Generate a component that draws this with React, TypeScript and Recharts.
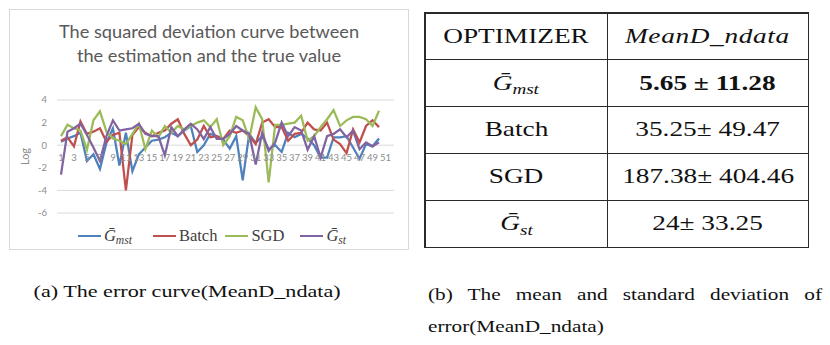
import React from 'react';
import { LineChart, Line, XAxis, YAxis, CartesianGrid, Legend } from 'recharts';

const categories = ['1','2','3','4','5','6','7','8','9','10','11','12','13','14','15','16','17','18','19','20','21','22','23','24','25','26','27','28','29','30','31','32','33','34','35','36','37','38','39','40','41','42','43','44','45','46','47','48','49','50','51'];

const gmst = [0.3, 0.6, 0.8, 1.1, -1.4, -0.8, -2.1, 0.2, 1.5, -1.8, 1.1, -2.3, -0.8, -0.2, 0.4, 0.5, 0.7, 1.1, 0.8, 1.3, 1.7, -0.6, 0.0, 1.0, 0.8, 0.5, -0.3, 0.8, -3.1, 1.0, 0.2, 0.8, -0.35, 0.0, -0.6, 1.1, 0.7, 1.0, 0.6, 0.0, -1.1, -1.1, 0.7, 0.7, 0.8, -0.2, -1.2, 0.1, -0.1, 0.6];
const batch = [0.4, 0.7, -0.1, 2.1, 1.0, 1.2, 1.5, 0.3, 0.9, 1.1, -4.0, 0.9, 1.6, 1.1, 0.8, 1.1, 1.3, 1.9, 2.3, 1.0, 0.0, 0.5, 1.7, 0.7, 0.8, 0.55, 1.3, 1.1, 1.3, 0.8, 0.1, 2.0, 2.3, 1.6, 1.6, 0.4, 1.0, 1.1, 2.0, 1.4, 1.3, 2.0, 0.5, 0.1, -0.7, 1.4, 0.25, 1.7, 2.2, 1.6];
const sgd = [0.8, 1.8, 1.5, 1.3, -0.4, 2.2, 3.0, 1.2, 0.6, 0.4, 0.1, 1.0, 1.9, -0.35, 1.3, 0.7, 1.7, 1.1, 1.7, 1.4, 1.7, 2.0, 2.2, 1.6, 2.3, 0.0, 0.8, 2.5, 2.2, 0.55, 3.35, 2.3, -3.3, 1.8, 1.8, 1.9, 2.0, 2.6, 0.4, 0.8, 1.6, 2.3, 3.1, 1.7, 2.2, 2.5, 2.5, 2.3, 1.7, 3.05];
const gst = [-2.6, 1.2, 1.5, 1.9, 0.9, -0.2, -1.4, 0.8, 2.2, 1.3, 1.4, 1.5, 1.9, 1.0, 0.8, 0.8, -0.9, 1.6, 0.8, 1.4, 1.9, 1.4, 0.55, 1.6, 0.55, 0.55, 1.0, 1.7, 1.3, 1.0, -1.7, 1.1, -0.5, 0.25, 2.0, 0.8, 1.6, 1.3, -0.4, 0.8, -1.1, 0.8, 1.0, 1.4, 0.7, 1.3, -0.35, 0.25, -0.1, 0.25];

const yTicks = [-6, -4, -2, 0, 2, 4];

const tableHeader = ['OPTIMIZER', 'MeanD_ndata'];
const optimizerNames = ['G_mst', 'Batch', 'SGD', 'G_st'];
const meanStd = ['5.65 ± 11.28', '35.25± 49.47', '187.38± 404.46', '24± 33.25'];

const chartTitle = ['The squared deviation curve between', 'the estimation and the true value'];
const captionA = '(a) The error curve(MeanD_ndata)';
const captionB = ['(b) The mean and standard deviation of', 'error(MeanD_ndata)'];

const data = categories.map((c, i) => ({ name: c, gmst: gmst[i], batch: batch[i], sgd: sgd[i], gst: gst[i] }));

const series = [
  { key: 'gmst', color: '#4f81bd', name: 'G_mst', gapBefore: 0 },
  { key: 'batch', color: '#c0504d', name: 'Batch', gapBefore: 21 },
  { key: 'sgd', color: '#9bbb59', name: 'SGD', gapBefore: 8 },
  { key: 'gst', color: '#8064a2', name: 'G_st', gapBefore: 16 },
];

const SERIF = "'Liberation Serif', 'Times New Roman', serif";
const SANS = "Lato, 'Open Sans', sans-serif";

const CHART_W = 398;
const CHART_H = 239;
const M_TOP = 90;
const X_AXIS_H = 36;
const PLOT_H = CHART_H - M_TOP - X_AXIS_H;
const ZERO_Y = M_TOP + PLOT_H * 0.4;
const CAP_SX = 1.25;

function MathName({ name }: { name: string }) {
  if (name.startsWith('G_')) {
    return (
      <span style={{ fontStyle: 'italic' }}>
        {'Ḡ'}
        <span style={{ fontSize: '0.7em', position: 'relative', top: '0.3em' }}>{name.slice(2)}</span>
      </span>
    );
  }
  return <span>{name}</span>;
}

const XTick = (props: any) => {
  const { x, payload } = props;
  return (
    <text x={x} y={ZERO_Y + 15.5} textAnchor="middle" fontSize={9.5} fill="#8c8c8c" fontFamily={SANS}>
      {payload.value}
    </text>
  );
};

const LegendContent = () => (
  <div style={{ display: 'flex', justifyContent: 'center', alignItems: 'center', fontFamily: SERIF, fontSize: 16.5, color: '#404040', height: 20, paddingLeft: 6 }}>
    {series.map((s) => (
      <div key={s.key} style={{ display: 'flex', alignItems: 'center', marginLeft: s.gapBefore }}>
        <span style={{ display: 'inline-block', width: 23, height: 2.5, background: s.color, marginRight: 3 }} />
        <MathName name={s.name} />
      </div>
    ))}
  </div>
);

const Scaled = ({ children, sx = 1.3 }: { children: React.ReactNode; sx?: number }) => (
  <span style={{ display: 'inline-block', transform: `scaleX(${sx})`, whiteSpace: 'nowrap' }}>{children}</span>
);

export default function App() {
  return (
    <div style={{ position: 'absolute', left: 0, top: 0, width: 830, height: 345, background: '#fff', overflow: 'hidden' }}>
      <div style={{ position: 'absolute', left: 9, top: 9, width: 400, height: 241, boxSizing: 'border-box', border: '1px solid #d9d9d9', background: '#fff' }}>
        <LineChart width={CHART_W} height={CHART_H} data={data} margin={{ top: M_TOP, right: 14, bottom: 0, left: 0 }}>
          <CartesianGrid horizontal vertical={false} stroke="#d9d9d9" strokeWidth={1} />
          <XAxis
            dataKey="name"
            height={X_AXIS_H}
            axisLine={false}
            tickLine={false}
            interval={1}
            padding={{ left: 4, right: 8.5 }}
            tick={<XTick />}
          />
          <YAxis
            width={47}
            domain={[-6, 4]}
            ticks={yTicks}
            axisLine={false}
            tickLine={false}
            tickSize={8}
            tickMargin={2}
            tick={{ fontSize: 9.5, fill: '#8c8c8c', fontFamily: SANS }}
            label={{
              content: (p: any) => {
                const vb = p.viewBox || { x: 0, y: M_TOP, height: PLOT_H };
                const cx = vb.x + 14;
                const cy = vb.y + vb.height / 2;
                return (
                  <text transform={`translate(${cx}, ${cy}) rotate(-90)`} textAnchor="middle" dominantBaseline="central" fontSize={11} fill="#8c8c8c" fontFamily={SANS}>
                    Log
                  </text>
                );
              },
            }}
          />
          <Legend
            verticalAlign="middle"
            layout="horizontal"
            align="center"
            wrapperStyle={{ top: 216, left: 0, width: CHART_W }}
            content={() => <LegendContent />}
          />
          {series.map((s) => (
            <Line
              key={s.key}
              type="linear"
              dataKey={s.key}
              stroke={s.color}
              strokeWidth={2.25}
              dot={false}
              isAnimationActive={false}
            />
          ))}
        </LineChart>
        <div style={{ position: 'absolute', left: 0, top: 9, width: CHART_W, textAlign: 'center', fontFamily: SANS, fontSize: 18.2, color: '#595959', lineHeight: '24px', pointerEvents: 'none' }}>
          {chartTitle[0]}
          <br />
          {chartTitle[1]}
        </div>
      </div>

      <div
        style={{
          position: 'absolute', left: 424, top: 12, width: 385, height: 236, boxSizing: 'border-box',
          display: 'grid', gridTemplateColumns: '181px 1fr', gridTemplateRows: 'repeat(5, 1fr)',
          gap: 1.5, padding: 1.5, background: '#2a2a2a', fontFamily: SERIF, fontSize: 21, color: '#111',
        }}
      >
        <div style={cellStyle}><Scaled>{tableHeader[0]}</Scaled></div>
        <div style={cellStyle}><Scaled><span style={{ fontStyle: 'italic', letterSpacing: 0.5 }}>{tableHeader[1]}</span></Scaled></div>
        {optimizerNames.map((n, i) => (
          <React.Fragment key={n}>
            <div style={cellStyle}><Scaled><MathName name={n} /></Scaled></div>
            <div style={cellStyle}><Scaled><span style={{ fontWeight: i === 0 ? 'bold' : 'normal' }}>{meanStd[i]}</span></Scaled></div>
          </React.Fragment>
        ))}
      </div>

      <div style={{ position: 'absolute', left: 0, top: 281, width: 375, textAlign: 'center', fontFamily: SERIF, fontSize: 17, color: '#111', lineHeight: '22px' }}>
        <Scaled>{captionA}</Scaled>
      </div>
      <div style={{ position: 'absolute', left: 428, top: 284, width: 394 / CAP_SX, transform: `scaleX(${CAP_SX})`, transformOrigin: 'left top', fontFamily: SERIF, fontSize: 17, color: '#111', lineHeight: '22px', textAlign: 'justify', textAlignLast: 'justify' as any, whiteSpace: 'nowrap' }}>
        {captionB[0]}
      </div>
      <div style={{ position: 'absolute', left: 428, top: 316, transform: `scaleX(${CAP_SX})`, transformOrigin: 'left top', fontFamily: SERIF, fontSize: 17, color: '#111', lineHeight: '22px', whiteSpace: 'nowrap' }}>
        {captionB[1]}
      </div>
    </div>
  );
}

const cellStyle: React.CSSProperties = {
  background: '#fff',
  display: 'flex',
  alignItems: 'center',
  justifyContent: 'center',
};
